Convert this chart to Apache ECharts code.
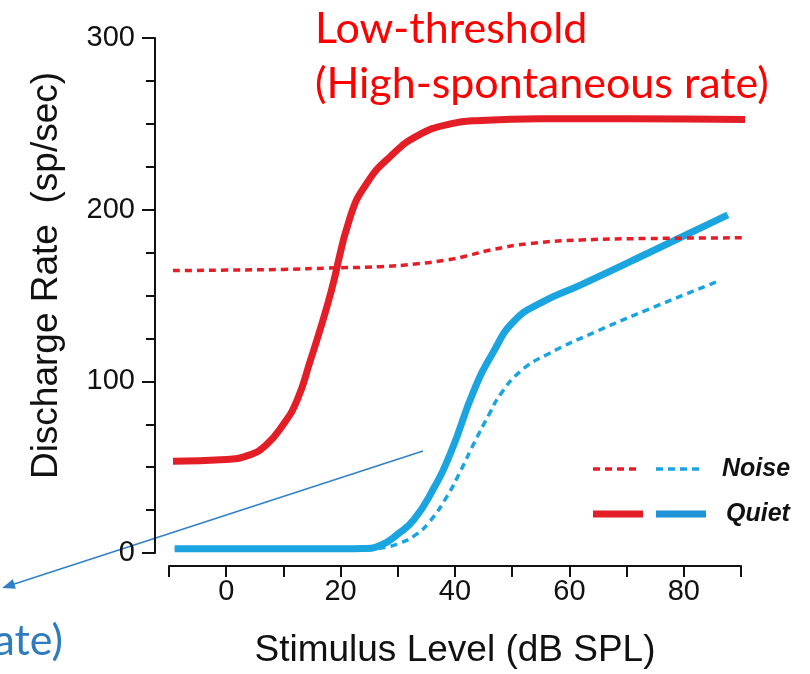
<!DOCTYPE html>
<html>
<head>
<meta charset="utf-8">
<script src="https://cdn.jsdelivr.net/npm/echarts@6/dist/echarts.min.js"></script>
<style>
  html, body { margin: 0; padding: 0; background: #fff; }
  #chart { width: 810px; height: 674px; }
</style>
</head>
<body>
<div id="chart"></div>
<script>
// ---- Data ----
// Stimulus level (dB SPL) / discharge rate (sp/sec)
var redQuietX = [-9.3, 0, 4, 7, 10, 12.4, 14.7, 16.5, 18.4, 21.7, 24.7, 28.7, 33.4, 39.2, 44.5, 55, 70, 91.2];
var redQuietY = [53.5, 54.5, 57, 63, 75, 89, 112, 131, 153, 196, 216, 231, 243, 250, 252, 253, 253, 252.5];

var redNoiseX = [-9.3, 0, 10, 18, 27, 33, 38.6, 42, 46.2, 53.2, 62, 73.7, 90.6];
var redNoiseY = [164.5, 164.8, 165.2, 166, 166.8, 168.3, 170.7, 173, 176.5, 180.3, 182.3, 183.2, 183.6];

var blueQuietX = [-9, 0, 10, 20, 24, 27, 30, 32.8, 36, 39.2, 43.3, 46.8, 50.3, 55, 62, 73.7, 87.7];
var blueQuietY = [2.5, 2.5, 2.5, 2.5, 2.6, 4.5, 11, 19.4, 36, 58, 94.6, 117.7, 135, 145.7, 156.2, 174.6, 197];

var blueNoiseX = [-9, 0, 10, 20, 25, 28, 30.5, 32.8, 35.5, 38.6, 41, 43.3, 46, 48, 51.5, 56.2, 64.9, 73.7, 85.9];
var blueNoiseY = [2.5, 2.5, 2.5, 2.5, 2.6, 3.5, 6, 9.8, 18, 33, 48, 63.8, 81, 92.7, 106, 115.8, 129.3, 141.8, 158.2];

var xTicks = [0, 20, 40, 60, 80];
var yTicks = [0, 100, 200, 300];

var xName = 'Stimulus Level (dB SPL)';
var yName = 'Discharge Rate  (sp/sec)';
var legendNames = ['Noise', 'Quiet'];
var annotRed = ['Low-threshold', '(High-spontaneous rate)'];
var annotBlue = '(Low-spontaneous rate)';

var RED = '#E31E26';
var BLUE = '#1BA5E0';

function pairs(xs, ys) { return xs.map(function (x, i) { return [x, ys[i]]; }); }

var chart = echarts.init(document.getElementById('chart'), null, { renderer: 'canvas' });

var axisFont = 'Liberation Sans, Arial, Helvetica, sans-serif';

var option = {
  animation: false,
  backgroundColor: '#ffffff',
  grid: { left: 169, right: 69, top: 38, bottom: 117, containLabel: false },
  xAxis: {
    type: 'value', min: -10, max: 90, interval: 10,
    offset: 13,
    axisLine: { show: true, onZero: false, lineStyle: { color: '#111', width: 2 } },
    axisTick: { show: true, inside: false, length: 11, lineStyle: { color: '#111', width: 2 } },
    axisLabel: {
      margin: 11, color: '#111', fontSize: 29, fontFamily: axisFont,
      formatter: function (v) { return xTicks.indexOf(v) >= 0 ? String(v) : ''; }
    },
    splitLine: { show: false },
    name: xName, nameLocation: 'middle', nameGap: 66,
    nameTextStyle: { color: '#111', fontSize: 37, fontFamily: axisFont }
  },
  yAxis: {
    type: 'value', min: 0, max: 300, interval: 100,
    offset: 14,
    axisLine: { show: true, onZero: false, lineStyle: { color: '#111', width: 2 } },
    axisTick: { show: true, inside: false, length: 13, lineStyle: { color: '#111', width: 2 } },
    minorTick: { show: true, splitNumber: 4, length: 9, lineStyle: { color: '#111', width: 2 } },
    axisLabel: {
      margin: 20, color: '#111', fontSize: 29, fontFamily: axisFont,
      formatter: function (v) { return yTicks.indexOf(v) >= 0 ? String(v) : ''; }
    },
    splitLine: { show: false },
    name: yName, nameLocation: 'middle', nameGap: 90, nameRotate: 90,
    nameTextStyle: { color: '#111', fontSize: 37, fontFamily: axisFont, padding: [0, 0, 0, 40] }
  },
  series: [
    {
      name: 'Noise (low SR)', type: 'line', data: pairs(blueNoiseX, blueNoiseY),
      showSymbol: false, smooth: 0.5, clip: false,
      lineStyle: { color: BLUE, width: 3.5, type: [7, 5] }
    },
    {
      name: 'Quiet (low SR)', type: 'line', data: pairs(blueQuietX, blueQuietY),
      showSymbol: false, smooth: 0.5, clip: false,
      lineStyle: { color: BLUE, width: 7, cap: 'butt' }
    },
    {
      name: 'Noise (high SR)', type: 'line', data: pairs(redNoiseX, redNoiseY),
      showSymbol: false, smooth: 0.5, clip: false,
      lineStyle: { color: RED, width: 3.5, type: [7, 5] }
    },
    {
      name: 'Quiet (high SR)', type: 'line', data: pairs(redQuietX, redQuietY),
      showSymbol: false, smooth: 0.5, clip: false,
      lineStyle: { color: RED, width: 7, cap: 'butt' }
    }
  ],
  graphic: [
    // legend
    { type: 'line', shape: { x1: 593, y1: 469, x2: 639, y2: 469 }, style: { stroke: RED, lineWidth: 3.5, lineDash: [7, 5] } },
    { type: 'line', shape: { x1: 656, y1: 469, x2: 702, y2: 469 }, style: { stroke: BLUE, lineWidth: 3.5, lineDash: [7, 5] } },
    { type: 'text', style: { text: legendNames[0], x: 722, y: 469, verticalAlign: 'middle', fontSize: 25, fontWeight: 'bold', fontStyle: 'italic', fontFamily: 'Liberation Sans', fill: '#111' } },
    { type: 'line', shape: { x1: 593, y1: 514, x2: 643, y2: 514 }, style: { stroke: RED, lineWidth: 7 } },
    { type: 'line', shape: { x1: 656, y1: 514, x2: 706, y2: 514 }, style: { stroke: '#1E93D8', lineWidth: 7 } },
    { type: 'text', style: { text: legendNames[1], x: 726, y: 514, verticalAlign: 'middle', fontSize: 25, fontWeight: 'bold', fontStyle: 'italic', fontFamily: 'Liberation Sans', fill: '#111' } },
    // red annotation
    { type: 'text', style: { text: annotRed[0], x: 315, y: 29, verticalAlign: 'middle', fontSize: 43, fontFamily: 'Lato', fill: '#FF0000' } },
    { type: 'text', style: { text: annotRed[1], x: 315, y: 84, verticalAlign: 'middle', fontSize: 43, fontFamily: 'Lato', fill: '#FF0000' } },
    // blue annotation (cut off at the left edge)
    { type: 'text', style: { text: annotBlue, x: 63, y: 641, align: 'right', verticalAlign: 'middle', fontSize: 43, fontFamily: 'Lato', fill: '#2E7BBE' } },
    // arrow
    { type: 'line', shape: { x1: 423, y1: 451, x2: 12, y2: 584.7 }, style: { stroke: '#2F80C8', lineWidth: 1.5 } },
    { type: 'polygon', shape: { points: [[2, 588], [15.9, 588.7], [12.8, 579.2]] }, style: { fill: '#2F80C8' } }
  ]
};

chart.setOption(option);
</script>
</body>
</html>
